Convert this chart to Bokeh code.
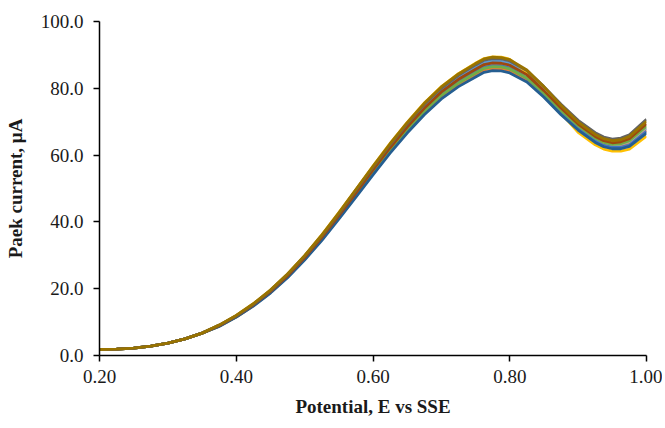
from bokeh.plotting import figure
from bokeh.models import Range1d, FixedTicker, NumeralTickFormatter
from bokeh.embed import file_html
from bokeh.resources import INLINE

potential = [0.200, 0.225, 0.250, 0.275, 0.300, 0.325, 0.350,
             0.375, 0.400, 0.425, 0.450, 0.475, 0.500, 0.525, 0.550, 0.575, 0.600,
             0.625, 0.650, 0.675, 0.700, 0.725, 0.750,
             0.7625, 0.775, 0.7875, 0.800, 0.825, 0.850, 0.875, 0.900, 0.925,
             0.9375, 0.950, 0.9625, 0.975, 1.000]

base = [1.8, 1.9, 2.2, 2.8, 3.7, 5.0, 6.7]

run1 = base + [9.0, 11.8, 15.3, 19.3, 24.1, 29.5, 35.6, 42.2, 49.1, 55.9, 62.6, 68.9, 74.6, 79.4, 83.2, 86.3,
               87.7, 88.2, 88.1, 87.5, 84.3, 79.1, 73.5, 68.3, 64.6, 63.3, 62.7, 62.8, 63.7, 67.9]
run2 = base + [8.8, 11.5, 14.9, 18.8, 23.5, 28.8, 34.7, 41.1, 47.8, 54.5, 61.1, 67.2, 72.7, 77.4, 81.2, 84.1,
               85.5, 86.0, 85.9, 85.3, 82.5, 77.9, 72.8, 68.1, 64.4, 63.1, 62.5, 62.6, 63.3, 67.4]
run3 = base + [8.9, 11.7, 15.1, 19.1, 23.9, 29.3, 35.3, 41.8, 48.6, 55.4, 62.0, 68.3, 73.9, 78.7, 82.5, 85.5,
               86.9, 87.4, 87.3, 86.7, 83.8, 78.9, 73.5, 68.7, 65.0, 63.7, 63.1, 63.2, 64.0, 68.2]
run4 = base + [9.1, 12.0, 15.5, 19.6, 24.4, 29.9, 36.1, 42.8, 49.7, 56.7, 63.5, 69.8, 75.6, 80.5, 84.4, 87.5,
               88.9, 89.4, 89.3, 88.7, 84.8, 79.0, 72.6, 66.8, 63.1, 61.8, 61.2, 61.2, 61.8, 65.7]
run5 = base + [8.9, 11.6, 15.0, 19.0, 23.7, 29.1, 35.0, 41.5, 48.3, 55.0, 61.6, 67.8, 73.4, 78.1, 81.9, 84.9,
               86.3, 86.8, 86.7, 86.1, 83.1, 78.2, 72.8, 67.9, 64.2, 62.9, 62.3, 62.3, 63.0, 67.1]
run6 = base + [8.8, 11.6, 15.0, 19.0, 23.6, 29.0, 34.9, 41.4, 48.1, 54.9, 61.4, 67.6, 73.1, 77.9, 81.6, 84.6,
               86.0, 86.5, 86.4, 85.8, 83.1, 78.5, 73.4, 68.8, 65.1, 63.8, 63.2, 63.4, 64.3, 68.7]
run7 = base + [8.7, 11.5, 14.8, 18.7, 23.3, 28.6, 34.4, 40.8, 47.4, 54.1, 60.6, 66.6, 72.1, 76.8, 80.5, 83.4,
               84.8, 85.3, 85.2, 84.6, 81.9, 77.3, 72.1, 67.5, 63.8, 62.5, 61.9, 61.9, 62.6, 66.6]
run8 = base + [8.9, 11.8, 15.2, 19.2, 23.9, 29.3, 35.4, 41.9, 48.7, 55.6, 62.2, 68.4, 74.0, 78.9, 82.7, 85.7,
               87.1, 87.6, 87.5, 86.9, 84.1, 79.3, 74.1, 69.3, 65.6, 64.3, 63.7, 64.0, 64.9, 69.4]
run9 = base + [9.1, 11.9, 15.4, 19.5, 24.3, 29.8, 35.9, 42.5, 49.5, 56.4, 63.1, 69.4, 75.2, 80.0, 83.9, 87.0,
               88.4, 88.9, 88.8, 88.2, 85.3, 80.5, 75.2, 70.4, 66.7, 65.4, 64.8, 65.1, 66.1, 70.7]
run10 = base + [9.1, 12.0, 15.5, 19.6, 24.4, 29.9, 36.0, 42.7, 49.7, 56.6, 63.4, 69.7, 75.5, 80.4, 84.3, 87.4,
                88.8, 89.3, 89.2, 88.6, 85.5, 80.5, 74.9, 69.9, 66.2, 64.9, 64.3, 64.6, 65.6, 70.1]

runs = [run1, run2, run3, run4, run5, run6, run7, run8, run9, run10]
colors = ["#5B9BD5", "#ED7D31", "#A5A5A5", "#FFC000", "#4472C4",
          "#70AD47", "#255E91", "#9E480E", "#636363", "#997300"]

x_ticks = [0.2, 0.4, 0.6, 0.8, 1.0]
y_ticks = [0, 20, 40, 60, 80, 100]

FONT = "Liberation Serif"
TXT = "#1a1a1a"

p = figure(width=662, height=419, output_backend="svg", toolbar_location=None,
           x_range=Range1d(0.2, 1.0), y_range=Range1d(0, 100),
           min_border_left=99, min_border_right=16, min_border_top=21, min_border_bottom=62)

for ys, c in zip(runs, colors):
    p.line(potential, ys, line_color=c, line_width=2.8, line_join="round")

p.grid.visible = False
p.outline_line_color = None

for ax in (p.xaxis[0], p.yaxis[0]):
    ax.axis_line_color = "black"
    ax.axis_line_width = 1.5
    ax.major_tick_line_color = "black"
    ax.major_tick_line_width = 1.5
    ax.major_tick_out = 6
    ax.major_tick_in = 0
    ax.minor_tick_line_color = None
    ax.major_label_text_font = FONT
    ax.major_label_text_font_size = "19px"
    ax.major_label_text_color = TXT
    ax.axis_label_text_font = FONT
    ax.axis_label_text_font_size = "19px"
    ax.axis_label_text_font_style = "bold"
    ax.axis_label_text_color = TXT

p.xaxis.ticker = FixedTicker(ticks=x_ticks)
p.yaxis.ticker = FixedTicker(ticks=y_ticks)
p.xaxis.formatter = NumeralTickFormatter(format="0.00")
p.yaxis.formatter = NumeralTickFormatter(format="0.0")
p.xaxis.axis_label = "Potential, E vs SSE"
p.yaxis.axis_label = "Paek current, μA"
p.xaxis.major_label_standoff = 8
p.yaxis.major_label_standoff = 10
p.xaxis.axis_label_standoff = 10
p.yaxis.axis_label_standoff = 12

open("out.html", "w").write(file_html(p, INLINE))
